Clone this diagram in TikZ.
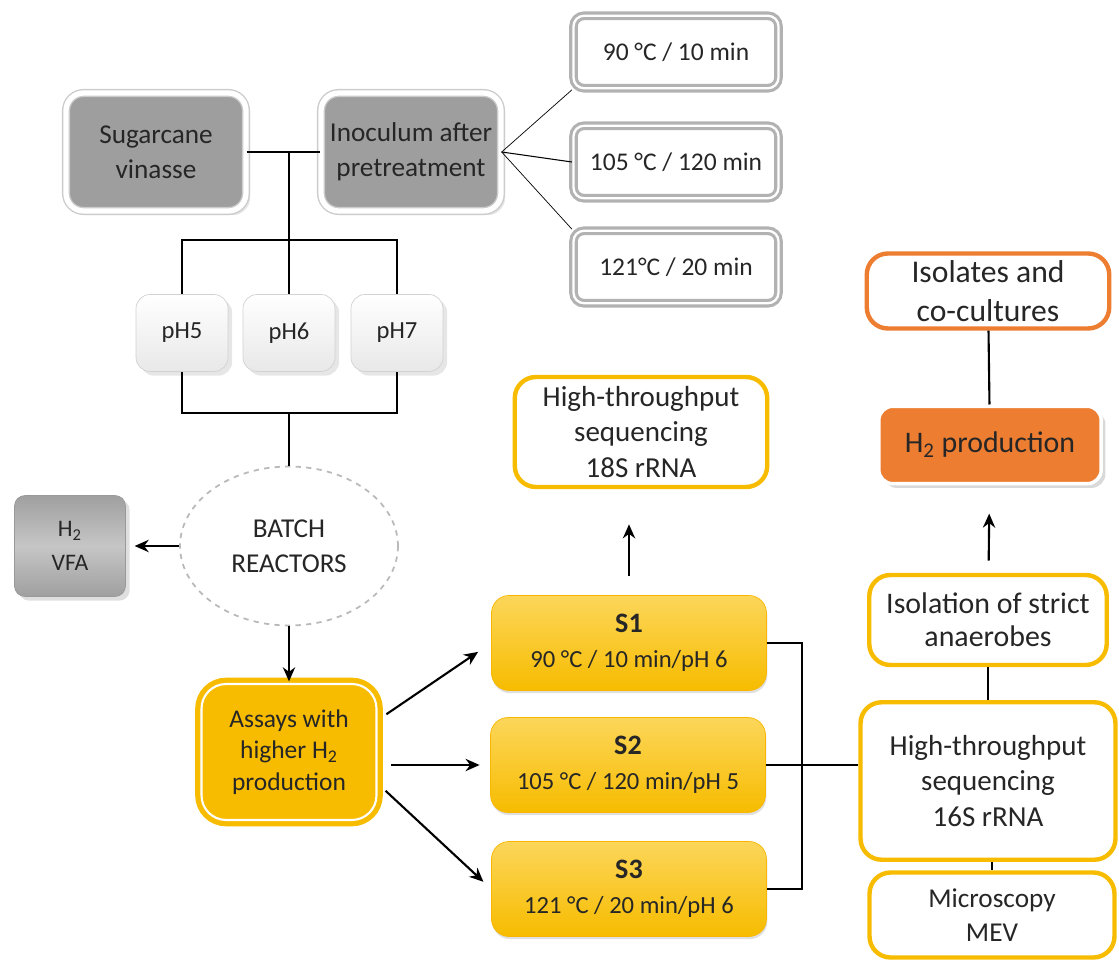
\documentclass[tikz,border=0pt]{standalone}
\usepackage{fontspec}
\setmainfont{Carlito}
\usetikzlibrary{shapes.geometric, arrows, arrows.meta, shadows}
\definecolor{gold}{RGB}{247,188,0}
\definecolor{goldlight}{RGB}{252,214,90}
\definecolor{orangebox}{RGB}{237,125,49}
\definecolor{greyfill}{RGB}{158,158,158}
\tikzstyle{greybox} = [rectangle, rounded corners=10pt, minimum width=3.6cm, minimum height=2.36cm, align=center, text=black!85, font=\fontsize{15.5}{20}\selectfont, fill=greyfill, draw=gray!40, double=white, double distance=3pt, line width=0.8pt, drop shadow={opacity=0.2}]
\tikzstyle{tempbox} = [rectangle, rounded corners=6pt, minimum width=4.1cm, minimum height=1.45cm, align=center, text=black!85, font=\fontsize{14.5}{18}\selectfont, fill=white, draw=gray!60, double=white, double distance=1.3pt, line width=1.8pt]
\tikzstyle{phbox} = [rectangle, rounded corners=8pt, minimum width=1.84cm, minimum height=1.54cm, align=center, text=black!85, font=\fontsize{14}{18}\selectfont, top color=white, bottom color=gray!18, draw=gray!35, drop shadow={opacity=0.2}]
\tikzstyle{reactor} = [ellipse, minimum width=4.36cm, minimum height=3.18cm, align=center, text=black!85, font=\fontsize{15.5}{20}\selectfont, draw=gray!55, dashed, line width=1pt]
\tikzstyle{vfabox} = [rectangle, rounded corners=6pt, minimum width=2.22cm, minimum height=2.02cm, align=center, text=black!85, font=\fontsize{13.5}{19}\selectfont, top color=gray!75, bottom color=gray!75, middle color=gray!45, draw=gray!80, drop shadow={opacity=0.25}]
\tikzstyle{assaybox} = [rectangle, rounded corners=14pt, minimum width=3.5cm, minimum height=2.72cm, align=center, text=black!85, font=\fontsize{14.5}{18}\selectfont, fill=gold, draw=gold, line width=3pt, double=white, double distance=1.2pt]
\tikzstyle{sbox} = [rectangle, rounded corners=10pt, minimum width=5.5cm, minimum height=1.9cm, align=center, text=black!85, font=\fontsize{14}{20}\selectfont, top color=goldlight, bottom color=gold, draw=gold!90!orange, drop shadow={opacity=0.25, shadow xshift=0.5pt, shadow yshift=-1.5pt}]
\tikzstyle{seqbox} = [rectangle, rounded corners=12pt, align=center, text=black!85, font=\fontsize{16.5}{20}\selectfont, fill=white, draw=gold, line width=2.5pt]
\tikzstyle{isobox} = [rectangle, rounded corners=12pt, align=center, text=black!85, font=\fontsize{18}{22.5}\selectfont, fill=white, draw=orangebox, line width=2.5pt]
\tikzstyle{h2box} = [rectangle, rounded corners=8pt, minimum width=4.45cm, minimum height=1.55cm, align=center, text=black!85, font=\fontsize{17}{20}\selectfont, fill=orangebox, draw=white, line width=2pt, drop shadow={opacity=0.3}]
\tikzstyle{conn} = [line width=1.2pt]
\tikzstyle{arrow} = [line width=1.2pt,->,>={Stealth[length=8pt,width=7pt]}]

\begin{document}
\begin{tikzpicture}[x=0.02cm, y=-0.02cm]
\useasboundingbox (0,0) rectangle (1119,962);
% feed and inoculum
\node (sugar) [greybox] at (156,152) {Sugarcane\\vinasse};
\node (inoc) [greybox] at (411,152) {Inoculum after\\pretreatment};
\node (t90) [tempbox] at (676,52) {90 °C / 10 min};
\node (t105) [tempbox] at (676,162) {105 °C / 120 min};
\node (t121) [tempbox] at (676,267) {121°C / 20 min};
\node (ph5) [phbox] at (182,333) {pH5};
\node (ph6) [phbox] at (289,333) {pH6};
\node (ph7) [phbox] at (397,333) {pH7};
\node (batch) [reactor] at (289,546) {BATCH\\REACTORS};
\node (vfa) [vfabox] at (70,546) {H\textsubscript{2}\\VFA};
\node (assay) [assaybox] at (289,752) {Assays with\\higher H\textsubscript{2}\\production};
% selected conditions
\node (s1) [sbox] at (629,643) {\textbf{\fontsize{16}{20}\selectfont S1}\\90 °C / 10 min/pH 6};
\node (s2) [sbox] at (628,765) {\textbf{\fontsize{16}{20}\selectfont S2}\\105 °C / 120 min/pH 5};
\node (s3) [sbox] at (629,889) {\textbf{\fontsize{16}{20}\selectfont S3}\\121 °C / 20 min/pH 6};
\node (ht18) [seqbox, minimum width=5.05cm, minimum height=2.2cm] at (641,432) {High-throughput\\sequencing\\18S rRNA};
% right column
\node (isolates) [isobox, minimum width=4.85cm, minimum height=1.5cm] at (988,291) {Isolates and\\co-cultures};
\node (h2prod) [h2box] at (990,445) {H\textsubscript{2} production};
\node (isolation) [seqbox, minimum width=4.75cm, minimum height=1.8cm, font=\fontsize{17}{19}\selectfont] at (988,620) {Isolation of strict\\anaerobes};
\node (ht16) [seqbox, minimum width=5.1cm, minimum height=3.15cm] at (988,781) {High-throughput\\sequencing\\16S rRNA};
\node (micro) [seqbox, minimum width=4.9cm, minimum height=1.7cm, font=\fontsize{15.5}{19}\selectfont] at (992,915) {Microscopy\\MEV};
\coordinate (topbar) at (289,240);
\coordinate (lowbar) at (289,413);

\draw [conn] (sugar) -- (inoc);
\draw [conn] (sugar.east -| ph6.north) -- (ph6.north);
\draw [conn] (ph5.north) |- (topbar) -| (ph7.north);
\draw [thin] (inoc.east) -- (t90.south west);
\draw [semithick] (inoc.east) -- (t105.west);
\draw [thin] (inoc.east) -- (t121.north west);
\draw [conn] (ph5.south) |- (lowbar) -| (ph7.south);
\draw [conn] (lowbar) -- (batch.north);
\draw [arrow, shorten >=5pt] (batch) -- (vfa);
\draw [arrow] (batch) -- (assay);
\draw [arrow, shorten <=5pt, shorten >=9pt] (assay.20) -- (s1.west);
\draw [arrow, shorten <=7pt, shorten >=6pt] (assay.east |- s2.west) -- (s2.west);
\draw [arrow, shorten <=5pt, shorten >=6pt] (assay.-20) -- (s3.west);
\draw [arrow, shorten <=11pt, shorten >=20pt] (s1.north) -- (s1.north |- ht18.south);
\draw [conn] (s1.east) -- ++(35,0) |- (s3.east);
\draw [conn] (s2.east) -- (s2.east -| ht16.west);
\draw [conn] (isolates) -- (h2prod);
\draw [arrow, shorten <=7pt, shorten >=16pt] (isolation) -- (h2prod);
\draw [conn] (isolation) -- (ht16);
\draw [conn] (ht16.south -| micro.north) -- (micro.north);
\end{tikzpicture}
\end{document}
